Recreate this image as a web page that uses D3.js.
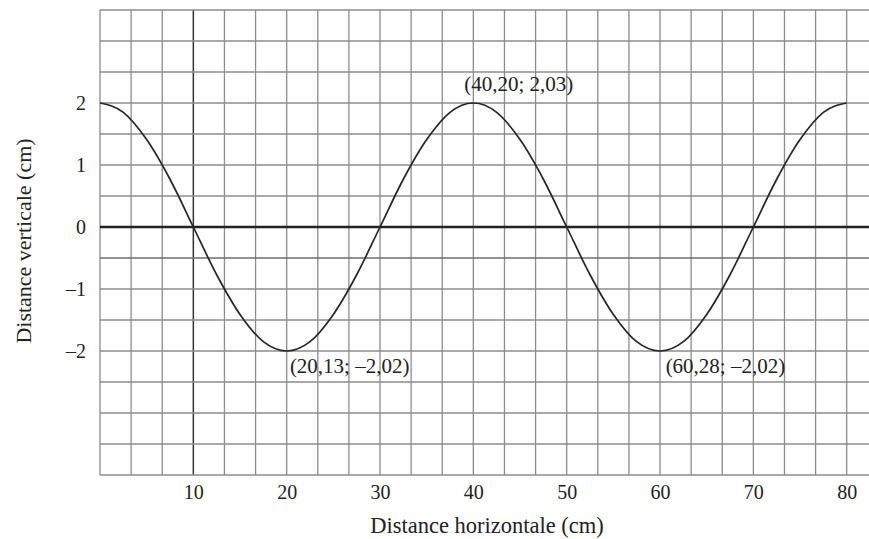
<!DOCTYPE html>
<html><head><meta charset="utf-8">
<script src="https://cdn.jsdelivr.net/npm/d3@7"></script>
<style>body{margin:0;background:#fff}svg{display:block}text{font-family:"Liberation Serif","Times New Roman",serif;fill:#222}</style>
</head><body><svg id="c" width="869" height="539"></svg>
<script>
// Data
const curveX = [0,2.5,5,7.5,10,12.5,15,17.5,20,22.5,25,27.5,30,32.5,35,37.5,40,42.5,45,47.5,50,52.5,55,57.5,60,62.5,65,67.5,70,72.5,75,77.5,80];
const curveY = [2,1.85,1.41,0.77,0,-0.77,-1.41,-1.85,-2,-1.85,-1.41,-0.77,0,0.77,1.41,1.85,2,1.85,1.41,0.77,0,-0.77,-1.41,-1.85,-2,-1.85,-1.41,-0.77,0,0.77,1.41,1.85,2];
const xTicks = [10,20,30,40,50,60,70,80];
const yTicks = [2,1,0,-1,-2];
const annLabels = ["(40,20; 2,03)","(20,13; –2,02)","(60,28; –2,02)"];
const annX = [40.2, 20.13, 60.28];
const annY = [2.03, -2.02, -2.02];

(function(){
const svg = d3.select("#c");
const pL=100, pR=869, pT=10, pB=475;
const x = d3.scaleLinear().domain([0,80]).range([100,846.7]);
const y = d3.scaleLinear().domain([-4,3.5]).range([pB,pT]);

const g = svg.append("g");
// grid
const vLines = d3.range(0,26).map(k=>k*10/3).filter(v=>x(v)<=pR+0.5);
const hLines = d3.range(-8,8).map(k=>k*0.5);
g.selectAll(".vg").data(vLines).join("line")
  .attr("x1",d=>x(d)).attr("x2",d=>x(d)).attr("y1",pT).attr("y2",pB)
  .attr("stroke",d=>Math.abs(d-10)<1e-6?"#333":"#8c8c8c")
  .attr("stroke-width",d=>Math.abs(d-10)<1e-6?1.5:1.3);
g.selectAll(".hg").data(hLines).join("line")
  .attr("x1",pL).attr("x2",pR).attr("y1",d=>y(d)).attr("y2",d=>y(d))
  .attr("stroke",d=>d===0?"#222":(d===-0.5?"#6e6e6e":"#8c8c8c"))
  .attr("stroke-width",d=>d===0?2.3:(d===-0.5?1.7:1.3));

// curve
const pts = curveX.map((v,i)=>[v,curveY[i]]);
g.append("path").datum(pts)
  .attr("d",d3.line().x(d=>x(d[0])).y(d=>y(d[1])).curve(d3.curveMonotoneX))
  .attr("fill","none").attr("stroke","#262626").attr("stroke-width",1.7);

// axes
const xa = svg.append("g").attr("transform",`translate(0,${pB})`)
  .call(d3.axisBottom(x).tickValues(xTicks).tickSize(0).tickPadding(10).tickFormat(d3.format("d")));
xa.select(".domain").remove();
xa.selectAll("text").style("font-size","20px").style("font-family","Liberation Serif").attr("fill","#222");
const ya = svg.append("g").attr("transform",`translate(${pL},0)`)
  .call(d3.axisLeft(y).tickValues(yTicks).tickSize(0).tickPadding(14).tickFormat(d=>d<0?"–"+Math.abs(d):String(d)));
ya.select(".domain").remove();
ya.selectAll("text").style("font-size","20px").style("font-family","Liberation Serif").attr("fill","#222");

// titles
svg.append("text").attr("x",487).attr("y",533).attr("text-anchor","middle")
  .style("font-size","22.5px").text("Distance horizontale (cm)");
svg.append("text").attr("transform","translate(31,241) rotate(-90)").attr("text-anchor","middle")
  .style("font-size","22px").text("Distance verticale (cm)");

// annotations
const offX=[-11,2,3], offY=[-10,21,21];
svg.selectAll(".ann").data(annLabels).join("text")
  .attr("x",(d,i)=>x(annX[i])+offX[i]).attr("y",(d,i)=>y(annY[i])+offY[i])
  .style("font-size","21px").text(d=>d);
})();
</script></body></html>
